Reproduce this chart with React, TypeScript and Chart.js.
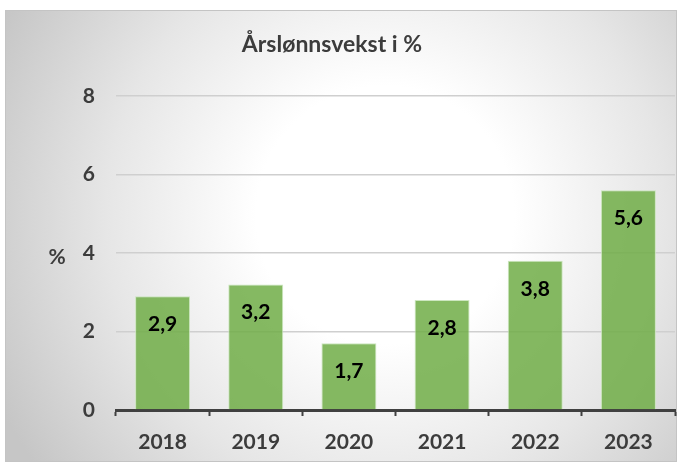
import React, { useEffect, useRef } from "react";
import { Chart, registerables } from "chart.js";

Chart.register(...registerables);

const years = ["2018", "2019", "2020", "2021", "2022", "2023"];
const growth = [2.9, 3.2, 1.7, 2.8, 3.8, 5.6];
const yMin = 0;
const yMax = 8;
const yStep = 2;
const titleText = "Årslønnsvekst i %";
const yAxisLabel = "%";

const FONT = "Lato, 'Open Sans', sans-serif";
const TEXT = "#3c3c3c";

const bgPlugin = {
  id: "bgBox",
  beforeDraw(chart: any) {
    const ctx = chart.ctx;
    ctx.save();
    ctx.fillStyle = "#ffffff";
    ctx.fillRect(0, 0, chart.width, chart.height);
    const g = ctx.createRadialGradient(385, 215, 0, 385, 215, 430);
    g.addColorStop(0, "#ffffff");
    g.addColorStop(0.3, "#ffffff");
    g.addColorStop(0.65, "#e6e6e6");
    g.addColorStop(1, "#c6c6c6");
    ctx.fillStyle = g;
    ctx.fillRect(5, 10, 671, 452);
    ctx.strokeStyle = "#c4c4c4";
    ctx.lineWidth = 1;
    ctx.strokeRect(5.5, 10.5, 671, 451);
    ctx.restore();
  },
};

const textPlugin = {
  id: "texts",
  afterDraw(chart: any) {
    const ctx = chart.ctx;
    ctx.save();
    ctx.fillStyle = TEXT;
    ctx.textAlign = "center";
    ctx.textBaseline = "middle";
    ctx.font = `bold 23px ${FONT}`;
    ctx.fillText(titleText, 332, 45);
    ctx.font = `bold 21px ${FONT}`;
    ctx.fillText(yAxisLabel, 57, 257);
    ctx.restore();
  },
  afterDatasetsDraw(chart: any) {
    const ctx = chart.ctx;
    const meta = chart.getDatasetMeta(0);
    ctx.save();
    ctx.fillStyle = "#000000";
    ctx.textAlign = "center";
    ctx.textBaseline = "middle";
    ctx.font = `bold 21px ${FONT}`;
    meta.data.forEach((bar: any, i: number) => {
      ctx.fillText(String(growth[i]).replace(".", ","), bar.x, bar.y + 28);
    });
    ctx.restore();
  },
};

export default function App() {
  const ref = useRef<HTMLCanvasElement>(null);
  useEffect(() => {
    if (!ref.current) return;
    const chart = new Chart(ref.current, {
      type: "bar",
      data: {
        labels: years,
        datasets: [
          {
            data: growth,
            backgroundColor: "rgba(112,173,71,0.85)",
            borderColor: "rgba(200,228,185,0.9)",
            borderWidth: 1,
            categoryPercentage: 1,
            barPercentage: 0.59,
          },
        ],
      },
      options: {
        animation: false,
        responsive: false,
        layout: { padding: { top: 96, right: 6, left: 0, bottom: 0 } },
        plugins: { legend: { display: false }, title: { display: false }, tooltip: { enabled: false } },
        scales: {
          x: {
            afterFit: (s: any) => {
              s.height = 56;
            },
            border: { display: true, color: "#404040", width: 3 },
            grid: {
              display: true,
              offset: true,
              drawOnChartArea: false,
              drawTicks: true,
              tickLength: 6,
              tickColor: "#404040",
              tickWidth: 2,
            },
            ticks: { color: TEXT, font: { family: FONT, size: 21, weight: "bold" }, padding: 14 },
          },
          y: {
            min: yMin,
            max: yMax,
            afterFit: (s: any) => {
              s.width = 116;
            },
            border: { display: false },
            grid: { color: "#cfcfcf", lineWidth: 1.5, drawTicks: false },
            ticks: { stepSize: yStep, color: TEXT, font: { family: FONT, size: 21, weight: "bold" }, padding: 21 },
          },
        },
      },
      plugins: [bgPlugin, textPlugin],
    });
    return () => chart.destroy();
  }, []);
  return (
    <div style={{ position: "absolute", left: 0, top: 0, width: 681, height: 466 }}>
      <canvas ref={ref} width={681} height={466} />
    </div>
  );
}
